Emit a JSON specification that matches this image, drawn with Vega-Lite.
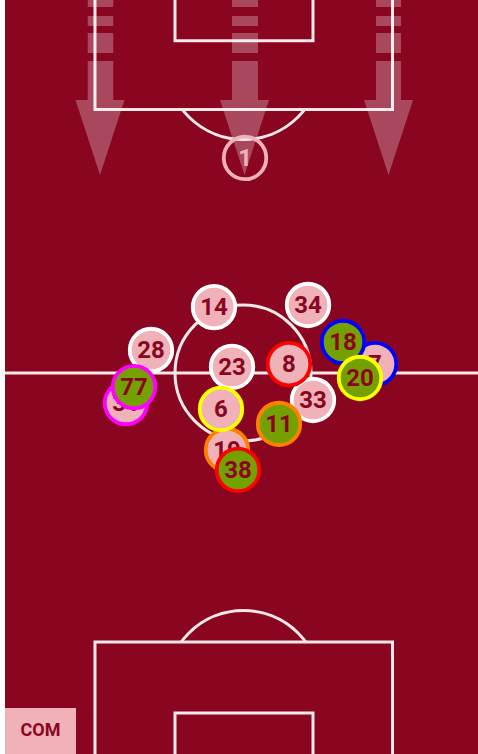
{
  "$schema": "https://vega.github.io/schema/vega-lite/v6.json",
  "width": 478,
  "height": 754,
  "autosize": {"type": "fit", "contains": "padding"},
  "padding": 0,
  "background": "#ffffff",
  "config": {"view": {"stroke": null}},
  "datasets": {
    "pitch": [{"x": 1.05, "x2": 101, "y": -1, "y2": 101}],
    "halfway": [{"x": 1.05, "x2": 101, "y": 49.47}],
    "centre": [{"x": 50.84, "y": 49.47}],
    "arcs": [{"x": 50.94, "y": 8.22}, {"x": 50.94, "y": 91.25}],
    "boxes": [
      {"x": 19.87, "x2": 82.11, "y": -3, "y2": 14.52},
      {"x": 36.61, "x2": 65.48, "y": -3, "y2": 5.4},
      {"x": 19.87, "x2": 82.11, "y": 85.15, "y2": 103},
      {"x": 36.61, "x2": 65.48, "y": 94.56, "y2": 103}
    ],
    "shafts": [
      {"x": 18.35, "x2": 23.7, "y": 0, "y2": 0.93},
      {"x": 18.35, "x2": 23.7, "y": 2.12, "y2": 3.45},
      {"x": 18.35, "x2": 23.7, "y": 4.38, "y2": 7.03},
      {"x": 18.35, "x2": 23.7, "y": 8.09, "y2": 13.26},
      {"x": 48.54, "x2": 53.97, "y": 0, "y2": 0.93},
      {"x": 48.54, "x2": 53.97, "y": 2.12, "y2": 3.45},
      {"x": 48.54, "x2": 53.97, "y": 4.38, "y2": 7.03},
      {"x": 48.54, "x2": 53.97, "y": 8.09, "y2": 13.26},
      {"x": 78.66, "x2": 83.89, "y": 0, "y2": 0.93},
      {"x": 78.66, "x2": 83.89, "y": 2.12, "y2": 3.45},
      {"x": 78.66, "x2": 83.89, "y": 4.38, "y2": 7.03},
      {"x": 78.66, "x2": 83.89, "y": 8.09, "y2": 13.26}
    ],
    "heads": [{"x": 20.92, "y": 18.24}, {"x": 51.15, "y": 18.24}, {"x": 81.28, "y": 18.24}],
    "players": [
      {"num": "1", "x": 51.26, "y": 20.95, "role": "gk", "pair": "gk", "group": 1},
      {"num": "14", "x": 44.77, "y": 40.72, "role": "start", "pair": "none", "group": 1},
      {"num": "34", "x": 64.44, "y": 40.45, "role": "start", "pair": "none", "group": 1},
      {"num": "28", "x": 31.59, "y": 46.42, "role": "start", "pair": "none", "group": 1},
      {"num": "23", "x": 48.54, "y": 48.67, "role": "start", "pair": "none", "group": 1},
      {"num": "33", "x": 65.48, "y": 53.05, "role": "start", "pair": "none", "group": 1},
      {"num": "31", "x": 26.36, "y": 53.45, "role": "off", "pair": "31-77", "group": 2},
      {"num": "7", "x": 78.45, "y": 48.28, "role": "off", "pair": "7-18", "group": 2},
      {"num": "19", "x": 47.49, "y": 59.68, "role": "off", "pair": "19-11", "group": 2},
      {"num": "6", "x": 46.23, "y": 54.24, "role": "off", "pair": "6-20", "group": 2},
      {"num": "8", "x": 60.46, "y": 48.28, "role": "off", "pair": "8-38", "group": 2},
      {"num": "77", "x": 28.03, "y": 51.33, "role": "on", "pair": "31-77", "group": 3},
      {"num": "18", "x": 71.76, "y": 45.36, "role": "on", "pair": "7-18", "group": 3},
      {"num": "20", "x": 75.31, "y": 50.13, "role": "on", "pair": "6-20", "group": 3},
      {"num": "11", "x": 58.37, "y": 56.23, "role": "on", "pair": "19-11", "group": 3},
      {"num": "38", "x": 49.79, "y": 62.33, "role": "on", "pair": "8-38", "group": 3}
    ],
    "label": [{"x": 1.05, "x2": 15.9, "y": 93.9, "y2": 101, "cx": 8.47, "cy": 96.95, "text": "COM"}]
  },
  "layer": [
    {
      "data": {"name": "pitch"},
      "mark": {"type": "rect", "fill": "#8a0520", "clip": true},
      "encoding": {
        "x": {"field": "x", "type": "quantitative", "scale": {"domain": [0, 100], "nice": false, "zero": false}, "axis": null},
        "x2": {"field": "x2"},
        "y": {"field": "y", "type": "quantitative", "scale": {"domain": [0, 100], "nice": false, "zero": false, "reverse": true}, "axis": null},
        "y2": {"field": "y2"}
      }
    },
    {
      "data": {"name": "arcs"},
      "mark": {"type": "point", "shape": "circle", "filled": false, "size": 24025, "stroke": "#f7e8ea", "strokeWidth": 3, "opacity": 1, "clip": true},
      "encoding": {
        "x": {"field": "x", "type": "quantitative"},
        "y": {"field": "y", "type": "quantitative"}
      }
    },
    {
      "data": {"name": "boxes"},
      "mark": {"type": "rect", "fill": "#8a0520", "stroke": "#f7e8ea", "strokeWidth": 3, "clip": true},
      "encoding": {
        "x": {"field": "x", "type": "quantitative"},
        "x2": {"field": "x2"},
        "y": {"field": "y", "type": "quantitative"},
        "y2": {"field": "y2"}
      }
    },
    {
      "data": {"name": "halfway"},
      "mark": {"type": "rule", "stroke": "#f7e8ea", "strokeWidth": 3, "clip": true},
      "encoding": {
        "x": {"field": "x", "type": "quantitative"},
        "x2": {"field": "x2"},
        "y": {"field": "y", "type": "quantitative"}
      }
    },
    {
      "data": {"name": "centre"},
      "mark": {"type": "point", "shape": "circle", "filled": false, "size": 18496, "stroke": "#f7e8ea", "strokeWidth": 3, "opacity": 1},
      "encoding": {
        "x": {"field": "x", "type": "quantitative"},
        "y": {"field": "y", "type": "quantitative"}
      }
    },
    {
      "data": {"name": "shafts"},
      "mark": {"type": "rect", "fill": "#ffffff", "fillOpacity": 0.27, "clip": true},
      "encoding": {
        "x": {"field": "x", "type": "quantitative"},
        "x2": {"field": "x2"},
        "y": {"field": "y", "type": "quantitative"},
        "y2": {"field": "y2"}
      }
    },
    {
      "data": {"name": "heads"},
      "mark": {"type": "point", "shape": "M-0.653,-1L0.653,-1L0,1Z", "filled": true, "size": 5625, "fill": "#ffffff", "opacity": 0.27, "strokeWidth": 0},
      "encoding": {
        "x": {"field": "x", "type": "quantitative"},
        "y": {"field": "y", "type": "quantitative"}
      }
    },
    {
      "data": {"name": "players"},
      "transform": [{"filter": "datum.group === 1"}],
      "layer": [
        {
          "mark": {"type": "point", "shape": "circle", "filled": true, "size": 1806, "strokeWidth": 3.8, "opacity": 1},
          "encoding": {
            "x": {"field": "x", "type": "quantitative"},
            "y": {"field": "y", "type": "quantitative"},
            "fill": {"field": "role", "type": "nominal", "scale": {"domain": ["start", "off", "on", "gk"], "range": ["#f0b1b9", "#f0b1b9", "#74a000", "transparent"]}, "legend": null},
            "stroke": {"field": "pair", "type": "nominal", "scale": {"domain": ["none", "gk", "31-77", "7-18", "19-11", "6-20", "8-38"], "range": ["#ffffff", "#f0b1b9", "#ff00ff", "#0000ff", "#ff8000", "#ffff00", "#ff0000"]}, "legend": null}
          }
        },
        {
          "mark": {"type": "text", "font": "Roboto", "fontWeight": "bold", "fontSize": 24, "baseline": "middle", "align": "center", "dy": 1},
          "encoding": {
            "x": {"field": "x", "type": "quantitative"},
            "y": {"field": "y", "type": "quantitative"},
            "text": {"field": "num"},
            "color": {"condition": {"test": "datum.role === 'gk'", "value": "#f0b1b9"}, "value": "#8a0520"}
          }
        }
      ]
    },
    {
      "data": {"name": "players"},
      "transform": [{"filter": "datum.group === 2"}],
      "layer": [
        {
          "mark": {"type": "point", "shape": "circle", "filled": true, "size": 1806, "strokeWidth": 3.8, "opacity": 1},
          "encoding": {
            "x": {"field": "x", "type": "quantitative"},
            "y": {"field": "y", "type": "quantitative"},
            "fill": {"field": "role", "type": "nominal", "legend": null},
            "stroke": {"field": "pair", "type": "nominal", "legend": null}
          }
        },
        {
          "mark": {"type": "text", "font": "Roboto", "fontWeight": "bold", "fontSize": 24, "baseline": "middle", "align": "center", "dy": 1},
          "encoding": {
            "x": {"field": "x", "type": "quantitative"},
            "y": {"field": "y", "type": "quantitative"},
            "text": {"field": "num"},
            "color": {"value": "#8a0520"}
          }
        }
      ]
    },
    {
      "data": {"name": "players"},
      "transform": [{"filter": "datum.group === 3"}],
      "layer": [
        {
          "mark": {"type": "point", "shape": "circle", "filled": true, "size": 1806, "strokeWidth": 3.8, "opacity": 1},
          "encoding": {
            "x": {"field": "x", "type": "quantitative"},
            "y": {"field": "y", "type": "quantitative"},
            "fill": {"field": "role", "type": "nominal", "legend": null},
            "stroke": {"field": "pair", "type": "nominal", "legend": null}
          }
        },
        {
          "mark": {"type": "text", "font": "Roboto", "fontWeight": "bold", "fontSize": 24, "baseline": "middle", "align": "center", "dy": 1},
          "encoding": {
            "x": {"field": "x", "type": "quantitative"},
            "y": {"field": "y", "type": "quantitative"},
            "text": {"field": "num"},
            "color": {"value": "#8a0520"}
          }
        }
      ]
    },
    {
      "data": {"name": "label"},
      "layer": [
        {
          "mark": {"type": "rect", "fill": "#f0b1b9", "clip": true},
          "encoding": {
            "x": {"field": "x", "type": "quantitative"},
            "x2": {"field": "x2"},
            "y": {"field": "y", "type": "quantitative"},
            "y2": {"field": "y2"}
          }
        },
        {
          "mark": {"type": "text", "font": "Roboto", "fontWeight": "bold", "fontSize": 18, "baseline": "middle", "align": "center", "color": "#8a0520"},
          "encoding": {
            "x": {"field": "cx", "type": "quantitative"},
            "y": {"field": "cy", "type": "quantitative"},
            "text": {"field": "text"}
          }
        }
      ]
    }
  ]
}
